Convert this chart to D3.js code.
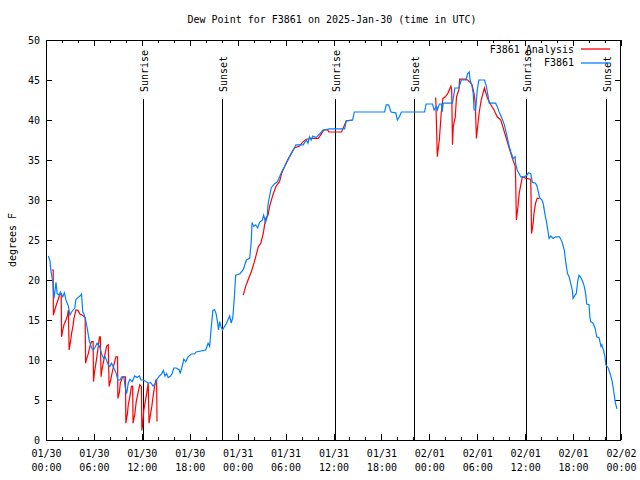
<!DOCTYPE html>
<html>
<head>
<meta charset="utf-8">
<script src="https://cdn.jsdelivr.net/npm/d3@7/dist/d3.min.js"></script>
<style>
  html, body { margin: 0; padding: 0; background: #fff; }
  svg { display: block; }
  text { font-family: "DejaVu Sans Mono", "Liberation Mono", monospace; font-size: 10px; fill: #000; }
</style>
</head>
<body>
<svg id="chart" width="640" height="480"></svg>
<script>
// ---------------- DATA ----------------
const chartTitle = "Dew Point for F3861 on 2025-Jan-30 (time in UTC)";
const yLabel = "degrees F";
const startTime = "2025-01-30T00:00:00Z";
const endTime = "2025-02-02T00:00:00Z";
const yTicks = [0, 5, 10, 15, 20, 25, 30, 35, 40, 45, 50];
const seriesNames = ["F3861 Analysis", "F3861"];

// hours after 2025-01-30 00:00 UTC, dew point (F)
const stationObs = [
[0.3,23.0],[0.5,22.4],[0.6,21.25],[0.85,19.8],[0.9,19.0],[1.0,17.7],[1.25,19.7],[1.4,18.3],[1.66,18.1],[1.8,18.5],
[2.1,17.9],[2.3,18.4],[2.5,17.5],[2.8,16.7],[3.0,15.6],[3.2,16.0],[3.4,16.25],[3.6,16.5],[3.75,17.6],[4.0,17.8],
[4.25,18.0],[4.45,18.25],[4.6,16.0],[4.75,15.75],[4.96,15.0],[5.2,13.75],[5.4,12.5],[5.7,11.5],[5.9,11.25],[6.1,11.5],
[6.4,12.1],[6.7,11.7],[6.96,10.8],[7.2,10.2],[7.4,10.4],[7.6,9.9],[7.8,9.4],[8.0,9.2],[8.2,9.6],[8.5,9.0],
[8.8,8.3],[9.0,7.5],[9.25,7.5],[9.5,7.9],[9.75,7.9],[9.9,6.7],[10.1,5.8],[10.3,7.1],[10.5,7.6],[10.8,7.3],
[11.1,8.0],[11.4,7.8],[11.7,8.0],[11.9,7.5],[12.2,7.5],[12.5,7.3],[12.8,7.1],[13.1,7.2],[13.4,6.75],[13.75,7.1],
[13.9,7.6],[14.2,8.0],[14.5,8.3],[14.7,8.7],[14.9,8.0],[15.1,8.3],[15.3,7.8],[15.6,8.0],[15.8,8.3],[16.0,9.0],
[16.3,9.0],[16.7,8.75],[16.8,8.3],[17.1,9.4],[17.25,10.1],[17.5,9.8],[17.8,10.4],[18.2,10.75],[18.6,10.75],[18.8,11.0],
[20.0,11.25],[20.3,12.1],[20.5,11.7],[20.7,14.2],[20.9,16.2],[21.1,16.3],[21.3,15.8],[21.5,14.6],[21.6,13.75],[21.75,14.8],
[21.9,14.2],[22.1,13.75],[22.6,14.6],[23.0,15.5],[23.2,14.6],[23.4,15.4],[23.6,18.1],[23.75,20.6],[24.25,20.75],[24.7,21.3],
[24.9,21.9],[25.1,22.5],[25.5,22.7],[25.7,24.8],[25.8,27.2],[26.0,26.7],[26.25,26.9],[26.5,26.5],[26.75,27.2],[27.1,27.5],
[27.25,28.1],[27.5,27.2],[27.7,27.9],[27.8,29.4],[27.9,30.0],[28.2,31.5],[28.6,32.0],[29.0,32.3],[29.5,33.5],[30.1,34.6],
[30.5,35.4],[31.1,36.5],[31.3,36.9],[32.2,36.9],[32.6,37.5],[32.8,37.1],[33.0,37.9],[33.2,37.5],[33.4,38.0],[33.8,37.8],
[34.25,38.25],[34.7,38.75],[35.1,38.8],[35.5,38.9],[37.4,38.9],[37.6,39.9],[38.4,40.0],[38.6,41.0],[42.4,41.0],[42.6,41.9],
[42.9,41.9],[43.2,41.0],[43.8,40.9],[44.0,40.0],[44.25,40.4],[44.5,41.0],[47.4,41.0],[47.6,42.0],[48.4,42.0],[48.6,41.25],
[48.9,41.7],[49.0,41.25],[49.25,42.0],[49.5,42.0],[49.6,41.0],[49.75,42.1],[50.9,42.1],[51.2,44.0],[51.7,44.0],[52.0,45.0],
[52.6,45.0],[52.8,45.8],[53.0,46.0],[53.1,45.0],[53.35,44.2],[53.5,43.3],[53.6,41.25],[53.8,41.25],[54.0,43.75],[54.2,45.0],
[54.9,45.0],[55.1,44.4],[55.3,43.3],[55.5,42.1],[56.3,42.1],[56.5,41.7],[56.75,41.0],[57.1,40.2],[57.4,39.4],[57.7,38.1],
[57.9,37.1],[58.2,36.0],[58.5,35.2],[58.75,35.4],[58.8,34.6],[59.0,33.75],[59.45,32.9],[59.9,32.9],[60.2,33.1],[60.4,33.4],
[60.7,33.3],[60.9,32.2],[61.3,32.1],[61.5,31.7],[61.8,30.3],[62.1,30.0],[62.25,29.6],[62.5,28.1],[62.7,27.1],[62.9,25.8],
[63.0,25.2],[63.2,25.5],[63.5,25.2],[63.8,25.4],[64.3,25.4],[64.6,24.8],[64.9,23.75],[65.1,22.1],[65.3,20.8],[65.5,20.4],
[65.7,19.6],[65.9,18.75],[66.0,17.7],[66.25,18.1],[66.4,18.3],[66.6,20.0],[66.75,20.6],[66.96,20.3],[67.2,19.8],[67.4,19.2],
[67.6,18.1],[67.7,17.0],[68.0,16.9],[68.1,15.4],[68.2,14.8],[68.5,14.6],[68.75,14.0],[68.96,12.9],[69.25,12.8],[69.5,11.7],
[69.6,11.9],[69.8,11.25],[70.0,10.4],[70.1,9.4],[70.4,9.0],[70.7,8.1],[70.9,7.3],[71.1,6.0],[71.3,4.6],[71.5,3.9]
];

// analysis series; null marks a gap
const analysis = [
[0.7,21.25],[0.9,21.25],[0.92,15.6],[1.1,16.25],[1.3,16.9],[1.5,17.5],[1.75,18.3],[1.9,18.3],[1.95,12.9],[2.1,13.75],
[2.25,14.4],[2.5,15.0],[2.7,15.6],[2.8,16.25],[2.9,11.25],[3.1,12.5],[3.2,13.3],[3.4,14.4],[3.5,15.2],[3.75,16.25],
[4.0,16.2],[4.25,15.75],[4.7,15.5],[4.9,15.3],[4.96,9.6],[5.1,10.2],[5.3,10.8],[5.5,11.7],[5.7,12.3],[5.9,12.3],
[5.95,7.3],[6.05,8.3],[6.25,9.6],[6.4,10.6],[6.7,12.9],[6.8,12.9],[6.9,7.9],[7.0,8.75],[7.2,9.8],[7.4,10.8],
[7.6,11.75],[7.8,11.9],[7.9,6.7],[8.1,7.5],[8.3,8.5],[8.5,9.4],[8.75,10.4],[8.96,10.4],[9.0,5.2],[9.2,6.0],
[9.3,7.1],[9.6,7.9],[9.95,7.9],[10.0,2.1],[10.2,3.3],[10.3,4.4],[10.5,5.4],[10.7,6.7],[10.85,6.75],[10.9,2.1],
[11.1,3.1],[11.3,4.8],[11.5,5.8],[11.75,6.9],[11.95,6.7],[12.0,1.2],[12.1,1.9],[12.25,3.75],[12.4,4.6],[12.6,5.8],
[12.8,7.1],[12.9,2.1],[13.1,3.3],[13.25,4.2],[13.4,5.4],[13.6,6.7],[13.75,7.5],[13.85,7.5],[13.9,2.3],
[19.0,null],
[24.7,18.1],[25.0,19.2],[25.3,20.0],[25.7,21.0],[26.1,22.3],[26.6,24.2],[26.9,24.6],[27.2,25.8],[27.5,27.7],[27.8,28.1],
[28.0,29.2],[28.4,30.6],[28.8,31.7],[29.25,32.3],[29.5,33.3],[29.9,34.25],[30.3,35.1],[30.7,35.8],[31.1,36.5],[31.75,36.75],
[32.2,37.3],[32.6,37.6],[33.25,37.7],[34.1,37.7],[34.5,38.3],[34.8,38.75],[35.3,38.75],[35.4,38.5],[37.0,38.5],[37.3,39.2],
[37.6,39.9],[38.4,40.0],
[43.0,null],
[48.8,42.8],[48.9,39.2],[49.0,35.4],[49.1,36.25],[49.25,37.5],[49.4,39.6],[49.5,41.0],[49.7,42.7],[50.0,42.9],[50.3,43.3],
[50.7,44.25],[50.8,43.75],[50.9,36.9],[51.0,39.2],[51.25,40.4],[51.4,42.9],[51.7,43.8],[51.8,45.1],[52.5,45.1],[52.8,45.0],
[53.1,44.7],[53.35,44.4],[53.6,43.3],[53.75,42.1],[53.9,37.7],[54.0,38.75],[54.25,41.0],[54.5,42.5],[54.7,43.3],[54.9,44.0],
[55.1,43.3],[55.3,42.7],[55.7,41.9],[56.1,41.25],[56.5,40.4],[56.95,40.0],[57.4,38.5],[57.7,37.5],[58.0,36.5],[58.4,35.2],
[58.75,34.2],[58.8,32.9],[58.9,27.5],[59.1,29.2],[59.25,30.8],[59.45,31.9],[59.65,32.9],[60.1,32.7],[60.7,32.6],[60.8,25.8],
[61.0,27.1],[61.1,28.3],[61.3,29.6],[61.5,30.2],[61.8,30.2]
];

// sun events, hours after start
const sunLabels = ["Sunrise", "Sunset", "Sunrise", "Sunset", "Sunrise", "Sunset"];
const sunHours  = [12.12, 22.08, 36.15, 46.1, 60.13, 70.12];

const seriesColors = ["#ff0000", "#0080ff"];

// ---------------- DRAW ----------------
const svg = d3.select("#chart");
const L = 46, R = 621, T = 40, B = 440;
const t0 = new Date(startTime).getTime();
const toDate = h => new Date(t0 + h * 3600e3);

const x = d3.scaleUtc().domain([new Date(startTime), new Date(endTime)]).range([L, R]);
const y = d3.scaleLinear().domain([0, 50]).range([B, T]);

// title
svg.append("text").attr("x", 332).attr("y", 23).attr("text-anchor", "middle").text(chartTitle);

// y label
svg.append("text")
  .attr("transform", `translate(12,${(T + B) / 2}) rotate(-90)`)
  .attr("text-anchor", "middle").attr("dominant-baseline", "central").text(yLabel);

// sun lines
const sunG = svg.append("g");
sunHours.forEach((h, i) => {
  const px = Math.round(x(toDate(h))) + 0.5;
  sunG.append("line").attr("x1", px).attr("x2", px).attr("y1", 99).attr("y2", B)
    .attr("stroke", "#000").attr("stroke-width", 1).attr("shape-rendering", "crispEdges");
  sunG.append("text")
    .attr("transform", `translate(${px + 1},92) rotate(-90)`)
    .attr("text-anchor", "start").attr("dominant-baseline", "central")
    .text(sunLabels[i]);
});

// axes
const majorTicks = d3.utcHour.every(6).range(new Date(startTime), new Date(new Date(endTime).getTime() + 1));
const minorTicks = d3.utcHour.every(2).range(new Date(startTime), new Date(new Date(endTime).getTime() + 1));
const fmtDate = d3.utcFormat("%m/%d"), fmtTime = d3.utcFormat("%H:%M");

function styleAxis(g) {
  g.select(".domain").remove();
  g.selectAll("line").attr("stroke", "#000").attr("shape-rendering", "crispEdges");
  g.selectAll("text").style("font-family", '"DejaVu Sans Mono", monospace').style("font-size", "10px").attr("fill", "#000");
}

svg.append("g").attr("transform", `translate(0,${B})`)
  .call(d3.axisBottom(x).tickValues(minorTicks).tickSize(-3).tickFormat(""))
  .call(styleAxis);
svg.append("g").attr("transform", `translate(0,${T})`)
  .call(d3.axisTop(x).tickValues(minorTicks).tickSize(-3).tickFormat(""))
  .call(styleAxis);
svg.append("g").attr("transform", `translate(0,${T})`)
  .call(d3.axisTop(x).tickValues(majorTicks).tickSize(-6).tickFormat(""))
  .call(styleAxis);
const xAx = svg.append("g").attr("transform", `translate(0,${B})`)
  .call(d3.axisBottom(x).tickValues(majorTicks).tickSize(-6).tickPadding(0).tickFormat(""))
  .call(styleAxis);
xAx.selectAll(".tick").each(function(d) {
  const t = d3.select(this).append("text").attr("text-anchor", "middle")
    .style("font-family", '"DejaVu Sans Mono", monospace').style("font-size", "10px").attr("fill", "#000");
  t.append("tspan").attr("x", 0).attr("y", 17).text(fmtDate(d));
  t.append("tspan").attr("x", 0).attr("y", 31).text(fmtTime(d));
});

svg.append("g").attr("transform", `translate(${L},0)`)
  .call(d3.axisLeft(y).tickValues(yTicks).tickSize(-6).tickPadding(6).tickFormat(d3.format("d")))
  .call(styleAxis);
svg.append("g").attr("transform", `translate(${R},0)`)
  .call(d3.axisRight(y).tickValues(yTicks).tickSize(-6).tickFormat(""))
  .call(styleAxis);

// border
svg.append("rect").attr("x", L + 0.5).attr("y", T + 0.5).attr("width", R - L - 1).attr("height", B - T)
  .attr("fill", "none").attr("stroke", "#000").attr("shape-rendering", "crispEdges");

// lines
const line = d3.line()
  .defined(d => d[1] !== null)
  .x(d => x(toDate(d[0])))
  .y(d => y(d[1]));

svg.append("path").datum(analysis).attr("d", line)
  .attr("fill", "none").attr("stroke", seriesColors[0]).attr("stroke-width", 1.2);
svg.append("path").datum(stationObs).attr("d", line)
  .attr("fill", "none").attr("stroke", seriesColors[1]).attr("stroke-width", 1.2);

// legend
const legY = [49, 62.5];
seriesNames.forEach((n, i) => {
  svg.append("text").attr("x", 574).attr("y", legY[i]).attr("text-anchor", "end")
    .attr("dominant-baseline", "central").text(n);
  svg.append("line").attr("x1", 581).attr("x2", 610).attr("y1", Math.round(legY[i])).attr("y2", Math.round(legY[i]))
    .attr("stroke", seriesColors[i]).attr("stroke-width", 1.3);
});
</script>
</body>
</html>
